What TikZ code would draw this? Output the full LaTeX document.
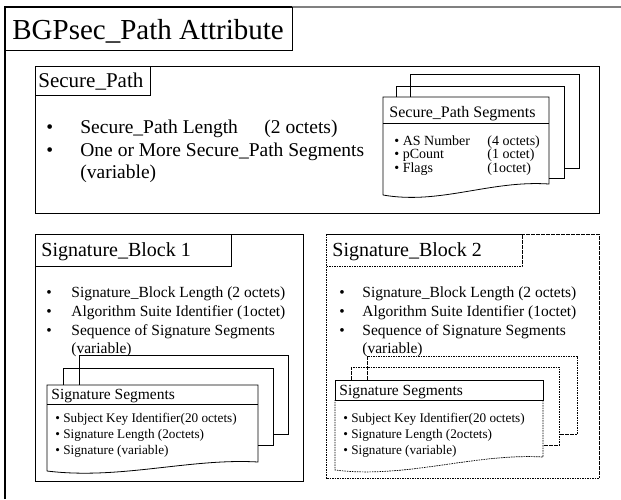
\documentclass[tikz,border=0pt]{standalone}
\usepackage{fontspec}
\setmainfont{Liberation Serif}

\begin{document}
\begin{tikzpicture}[x=1pt, y=-1pt, line width=0.8pt,
  txt/.style={anchor=base west, inner sep=0pt},
  titletxt/.style={txt, font=\fontsize{29}{31}\selectfont},
  labeltxt/.style={txt, font=\fontsize{20}{22}\selectfont},
  bigtxt/.style={txt, font=\fontsize{19.5}{21}\selectfont},
  midtxt/.style={txt, font=\fontsize{15.5}{17}\selectfont},
  smalltxt/.style={txt, font=\fontsize{13.2}{15}\selectfont},
  dotline/.style={dash pattern=on 1.6pt off 0.9pt, line width=0.7pt}]

\useasboundingbox (0,0) rectangle (621,499);

% frame of the whole attribute
\draw[line width=1.3pt] (5,499) -- (5,7) -- (292,7);
\draw[gray, line width=1.3pt] (292,7) -- (621,7);
\draw (5,7) rectangle (292,50);
\node[titletxt] (attr) at (12,39) {BGPsec\_Path Attribute};

% Secure_Path
\draw (35,66) rectangle (599,213);
\draw (35,66) rectangle (150,95);
\node[labeltxt, font=\fontsize{21}{23}\selectfont] (sp) at (38,87) {Secure\_Path};
\node[bigtxt] (spb1) at (46,133) {•};
\node[bigtxt] (splen) at (80,133) {Secure\_Path Length};
\node[bigtxt] (spoct) at (264,133) {(2 octets)};
\node[bigtxt] (spb2) at (46,156) {•};
\node[bigtxt] (spseg) at (80,156) {One or More Secure\_Path Segments};
\node[bigtxt] (spvar) at (80,178) {(variable)};

% stack of Secure_Path segments
\draw (410,97) -- (410,74) -- (579,74) -- (579,168) -- (564,168);
\draw (396,97) -- (396,86) -- (564,86) -- (564,178) -- (549,178);
\draw (383,195) -- (383,97) -- (549,97) -- (549,184)
  .. controls (490,180) and (440,205) .. (383,195);
\draw (383,123) -- (549,123);
\node[midtxt, font=\fontsize{16}{18}\selectfont] (sps) at (389,117) {Secure\_Path Segments};
\node[smalltxt, font=\fontsize{14}{16}\selectfont] (asn) at (394,145) {• AS Number};
\node[smalltxt, font=\fontsize{14}{16}\selectfont] (asnoct) at (487,145) {(4 octets)};
\node[smalltxt, font=\fontsize{14}{16}\selectfont] (pc) at (394,158.5) {• pCount};
\node[smalltxt, font=\fontsize{14}{16}\selectfont] (pcoct) at (487,158.5) {(1 octet)};
\node[smalltxt, font=\fontsize{14}{16}\selectfont] (fl) at (394,172) {• Flags};
\node[smalltxt, font=\fontsize{14}{16}\selectfont] (floct) at (487,172) {(1octet)};

% Signature_Block 1
\draw (35,234) rectangle (303,481);
\draw (35,234) rectangle (231,266);
\node[labeltxt] (sb1) at (41,256) {Signature\_Block 1};
\foreach \y/\t in {297/Signature\_Block Length (2 octets),
                   316/Algorithm Suite Identifier (1octet),
                   335/Sequence of Signature Segments}
  \node[midtxt] at (46,\y) {•} node[midtxt] at (71,\y) {\t};
\node[midtxt] (sb1var) at (71,353) {(variable)};

\draw (79,385) -- (79,355) -- (288,355) -- (288,434) -- (273,434);
\draw (63,385) -- (63,368) -- (273,368) -- (273,445) -- (258,445);
\draw (47,471) -- (47,385) -- (258,385) -- (258,462)
  .. controls (190,458) and (120,480) .. (47,471);
\draw (47,404) -- (258,404);
\node[midtxt] (ss1) at (51,399) {Signature Segments};
\node[smalltxt] (ski1) at (55,422) {• Subject Key Identifier(20 octets)};
\node[smalltxt] (sl1) at (55,438) {• Signature Length (2octets)};
\node[smalltxt] (sg1) at (55,454) {• Signature (variable)};

% Signature_Block 2
\draw[dotline] (326,234) rectangle (599,478);
\draw[dotline] (326,234) rectangle (522,266);
\node[labeltxt] (sb2) at (332,256) {Signature\_Block 2};
\foreach \y/\t in {297/Signature\_Block Length (2 octets),
                   316/Algorithm Suite Identifier (1octet),
                   335/Sequence of Signature Segments}
  \node[midtxt] at (339,\y) {•} node[midtxt] at (362,\y) {\t};
\node[midtxt] (sb2var) at (362,353) {(variable)};

\draw[dotline] (367,380) -- (367,356) -- (577,356) -- (577,434) -- (559,434);
\draw[dotline] (351,380) -- (351,367) -- (559,367) -- (559,445) -- (543,445);
\draw (335,400) -- (335,380) -- (543,380) -- (543,400) -- cycle;
\draw[dotline] (543,400) -- (543,457)
  .. controls (475,453) and (405,479) .. (335,470) -- (335,400);
\node[midtxt] (ss2) at (339,395) {Signature Segments};
\node[smalltxt] (ski2) at (343,422) {• Subject Key Identifier(20 octets)};
\node[smalltxt] (sl2) at (343,438) {• Signature Length (2octets)};
\node[smalltxt] (sg2) at (343,454) {• Signature (variable)};

\end{tikzpicture}
\end{document}
